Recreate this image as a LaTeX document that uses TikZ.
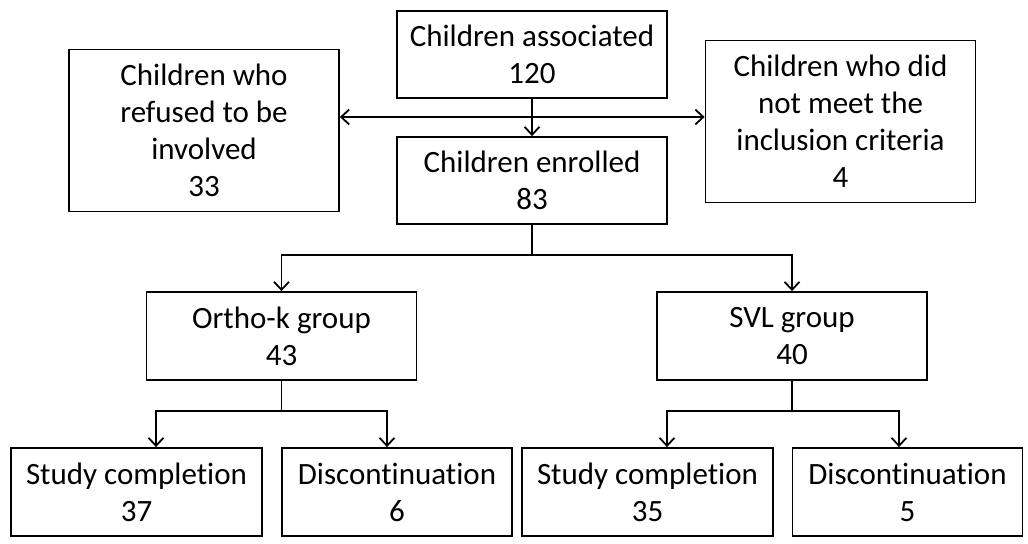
\documentclass[tikz,border=0pt]{standalone}
\usepackage{fontspec}
\setmainfont{Carlito}[Ligatures=NoCommon]
\usetikzlibrary{positioning,shapes,calc,arrows.meta}

\tikzset{
  box/.style={draw, line width=0.9pt, align=center, inner sep=0pt,
    font=\fontsize{15.5}{18.5}\selectfont},
  widebox/.style={box, minimum width=135pt, minimum height=43.5pt},
  tallbox/.style={box, minimum width=135pt, minimum height=81pt},
  compbox/.style={box, minimum width=125.5pt, minimum height=44pt},
  discbox/.style={box, minimum width=115pt, minimum height=44pt},
  link/.style={line width=0.9pt},
}

\begin{document}
\begin{tikzpicture}[x=0.5pt,y=-0.5pt,>={Straight Barb[length=4pt,width=7.5pt]}]
  \useasboundingbox (0,0) rectangle (1028,544);
  %%
  % Node: assoc
  \node[widebox] (assoc) at (532,54.5) {Children associated\\120};
  % Node: refused
  \node[tallbox] (refused) at (204,130.5) {Children who\\refused to be\\involved\\33};
  % Node: criteria
  \node[tallbox] (criteria) at (840.5,121.5) {Children who did\\not meet the\\inclusion criteria\\4};
  % Node: enrolled
  \node[widebox] (enrolled) at (532,180.5) {Children enrolled\\83};
  % Node: ortho
  \node[widebox, minimum height=44pt] (ortho) at (281.5,336) {Ortho-k group\\43};
  % Node: svl
  \node[widebox, minimum height=44pt] (svl) at (792,336) {SVL group\\40};
  % Node: done1, stop1
  \node[compbox] (done1) at (136.5,492) {Study completion\\37};
  \node[discbox] (stop1) at (397,492) {Discontinuation\\6};
  % Node: done2, stop2
  \node[compbox] (done2) at (647.5,492) {Study completion\\35};
  \node[discbox] (stop2) at (907.5,492) {Discontinuation\\5};
  %
  \coordinate (split) at (532,117);
  % Edge: assoc -> enrolled
  \draw[link,->] (assoc) -- (enrolled);
  % Edge: split -> refused, split -> criteria
  \draw[link,->] (split) -- (split -| refused.east);
  \draw[link,->] (split) -- (split -| criteria.west);
  % Edge: enrolled -> ortho, enrolled -> svl
  \draw[link,->] (enrolled.south) -- ++(0,30) -| (ortho.north);
  \draw[link,->] (enrolled.south) -- ++(0,30) -| (svl.north);
  % Edge: ortho -> done1, ortho -> stop1
  \draw[link,->] (ortho.south) -- ++(0,30) -| ($(done1.north)+(19.5,0)$);
  \draw[link,->] (ortho.south) -- ++(0,30) -| ($(stop1.north)+(-10,0)$);
  % Edge: svl -> done2, svl -> stop2
  \draw[link,->] (svl.south) -- ++(0,30) -| ($(done2.north)+(19.5,0)$);
  \draw[link,->] (svl.south) -- ++(0,30) -| ($(stop2.north)+(-8.5,0)$);
  %
\end{tikzpicture}
\end{document}
